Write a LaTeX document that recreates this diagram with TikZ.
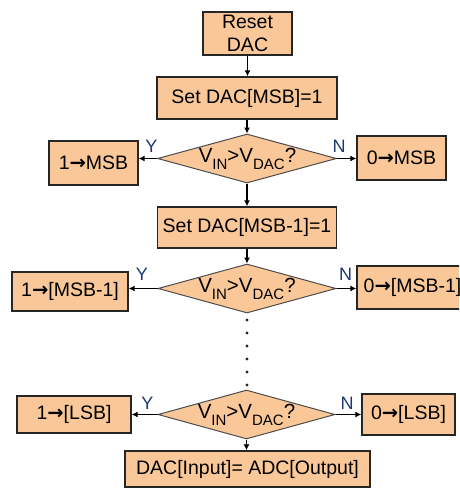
\documentclass[tikz,border=0pt]{standalone}
\usepackage{fontspec}
\setmainfont{Liberation Sans}
\newfontfamily\arrowfont{DejaVu Sans}
\usetikzlibrary{shapes.geometric,arrows.meta}
\definecolor{boxfill}{RGB}{250,200,152}
\definecolor{ynblue}{RGB}{30,55,115}
\newcommand{\vcmp}{{\fontsize{20.5}{20.5}\selectfont V\raisebox{-0.32em}{\fontsize{15}{15}\selectfont IN}>V\raisebox{-0.32em}{\fontsize{15}{15}\selectfont DAC}?}}
\newcommand{\toarr}{{\arrowfont\bfseries →}}
\begin{document}
\begin{tikzpicture}[x=1pt,y=-1pt,
  font=\fontsize{19.5}{23}\selectfont,
  stepbox/.style={draw=black!85,line width=1.3pt,fill=boxfill,inner sep=0pt,align=center},
  decide/.style={diamond,draw=black!70,line width=1pt,fill=boxfill,inner sep=0pt,aspect=3.6},
  conn/.style={line width=1.3pt,-{Latex[length=6pt,width=6pt]}},
  yn/.style={text=ynblue,font=\fontsize{18}{18}\selectfont,inner sep=0pt}]
\useasboundingbox (0,0) rectangle (459,488);
\clip (0,0) rectangle (459,488);
% main column
\node[stepbox,minimum width=89pt,minimum height=43pt] (reset) at (247.5,33.5) {Reset\\DAC};
\node[stepbox,minimum width=180pt,minimum height=42pt] (set1) at (247,98) {Set DAC[MSB]=1};
\node[decide,minimum width=179pt,minimum height=49pt] (d1) at (247,158.5) {};
\node at (247.5,159) {\vcmp};
\node[stepbox,minimum width=179pt,minimum height=41pt] (set2) at (247,227.5) {Set DAC[MSB-1]=1};
\node[decide,minimum width=178pt,minimum height=49pt] (d2) at (247,288.5) {};
\node at (247,289) {\vcmp};
\node[decide,minimum width=177pt,minimum height=49pt] (d3) at (246.5,414.5) {};
\node at (246.5,415) {\vcmp};
\node[stepbox,minimum width=245pt,minimum height=36pt] (final) at (247.5,469) {DAC[Input]= ADC[Output]};
% side boxes
\node[stepbox,minimum width=89pt,minimum height=44pt] (y1) at (93.5,163) {1\toarr MSB};
\node[stepbox,minimum width=89pt,minimum height=44pt] (n1) at (401.5,158) {0\toarr MSB};
\node[stepbox,minimum width=116pt,minimum height=39pt] (y2) at (70,291.5) {1\toarr[MSB-1]};
\node[stepbox,minimum width=111pt,minimum height=43pt] (n2) at (412.5,287.5) {0\toarr[MSB-1]};
\node[stepbox,minimum width=114pt,minimum height=37pt] (y3) at (74,414.5) {1\toarr[LSB]};
\node[stepbox,minimum width=93pt,minimum height=41pt] (n3) at (408.5,414.5) {0\toarr[LSB]};
% connectors
\draw[conn] (reset.south) -- (reset.south |- set1.north);
\draw[conn] (set1.south) -- (set1.south |- d1.north);
\draw[conn] (d1.south) -- (d1.south |- set2.north);
\draw[conn] (set2.south) -- (set2.south |- d2.north);
\draw[conn] (d3.south) -- (d3.south |- final.north);
\draw[conn] (d1.west) -- (d1.west -| y1.east);
\draw[conn] (d1.east) -- (d1.east -| n1.west);
\draw[conn] (d2.west) -- (d2.west -| y2.east);
\draw[conn] (d2.east) -- (d2.east -| n2.west);
\draw[conn] (d3.west) -- (d3.west -| y3.east);
\draw[conn] (d3.east) -- (d3.east -| n3.west);
% Y / N labels
\node[yn] (ly1) at (151.5,146) {Y};
\node[yn] (ln1) at (339,146) {N};
\node[yn] (ly2) at (142,274.5) {Y};
\node[yn] (ln2) at (345.5,274.5) {N};
\node[yn] (ly3) at (147.5,403) {Y};
\node[yn] (ln3) at (347,403) {N};
% continuation dots
\foreach \yy in {320,333,346,359,372,385}
  \fill[black!85] (247,\yy) circle (1.7pt);
\end{tikzpicture}
\end{document}
